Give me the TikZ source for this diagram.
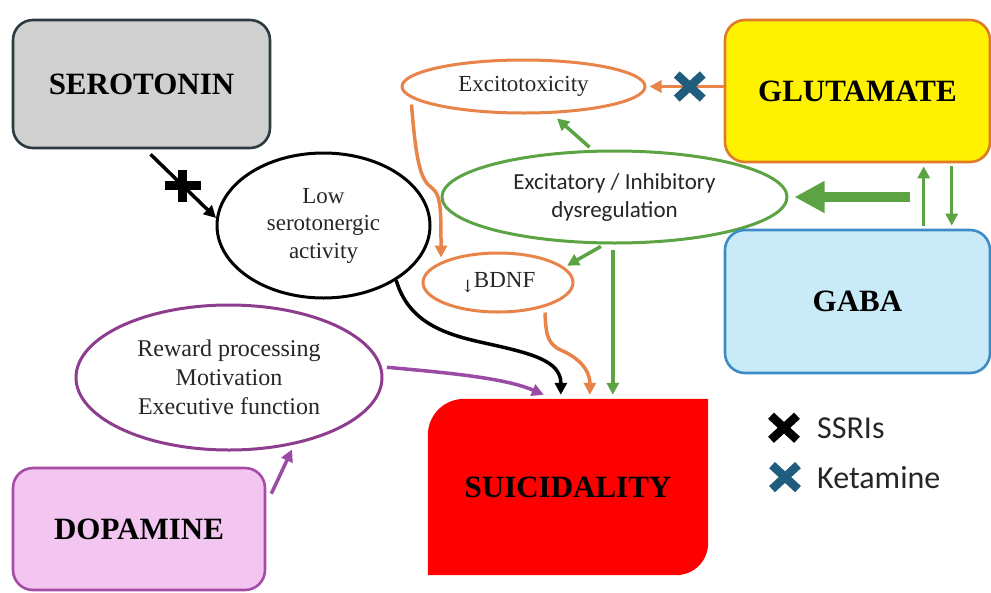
\documentclass[tikz,border=0pt]{standalone}
\usepackage{fontspec}
\setmainfont{Liberation Serif}
\newfontfamily\carlito{Carlito}
\newfontfamily\dejavuser{DejaVu Serif}
\usetikzlibrary{shapes.geometric,arrows.meta,calc}
\pgfdeclarelayer{background}
\pgfsetlayers{background,main}
\definecolor{seroborder}{HTML}{2D3A3F}
\definecolor{serofill}{HTML}{D0D0D0}
\definecolor{glutborder}{HTML}{E07B28}
\definecolor{gababorder}{HTML}{3D8CC8}
\definecolor{gabafill}{HTML}{C9EBF8}
\definecolor{dopaborder}{HTML}{A64CA6}
\definecolor{dopafill}{HTML}{F2C6F0}
\definecolor{purp}{HTML}{8E3D8E}
\definecolor{purpA}{HTML}{9B4AA6}
\definecolor{grn}{HTML}{5CA443}
\definecolor{orng}{HTML}{E8834A}
\definecolor{ketblue}{HTML}{1F5C7E}
\definecolor{suired}{HTML}{FF0000}
\tikzset{
  xcross/.pic={\draw[line width=8.5pt] (-13,-12) -- (13,12) (-13,12) -- (13,-12);},
  pluscross/.pic={\draw[line width=8.5pt] (0,-16) -- (0,16) (-18,0) -- (18,0);}
}
\begin{document}
\begin{tikzpicture}[x=1pt,y=-1pt,
  lbl/.style={font=\bfseries\fontsize{31}{31}\selectfont, text=black},
  boxnode/.style={rectangle, rounded corners=20pt, line width=2.6pt, inner sep=0pt},
  ell/.style={ellipse, line width=3pt, inner sep=0pt, align=center, fill=white, text=black!85},
  serif23/.style={font=\fontsize{23}{27.5}\selectfont},
  arr/.style={line width=3.5pt, -{Triangle[length=12pt,width=12pt]}},
  legend/.style={anchor=base west, inner sep=0pt, font=\carlito\fontsize{32}{32}\selectfont, text=black!85}
]
\clip (0,0) rectangle (991,592);

% nodes
\node[boxnode, draw=seroborder, fill=serofill, minimum width=257pt, minimum height=128pt, lbl] (sero) at (141.5,84) {SEROTONIN};
\node[ell, draw=black, minimum width=213pt, minimum height=145pt, serif23] (low) at (323.5,225.5) {Low\\serotonergic\\activity};
\node[ell, draw=orng, minimum width=243pt, minimum height=53pt, serif23] (excito) at (523.5,86.5) {Excitotoxicity};
\node[boxnode, draw=glutborder, fill=yellow, minimum width=265pt, minimum height=142pt, lbl] (glut) at (857.5,91) {GLUTAMATE};
\node[ell, draw=grn, minimum width=345pt, minimum height=92pt, font=\carlito\fontsize{23}{28}\selectfont] (ei) at (614.5,197) {Excitatory / Inhibitory\\dysregulation};
\node[boxnode, draw=gababorder, fill=gabafill, minimum width=265pt, minimum height=143pt, lbl] (gaba) at (857.5,301.5) {GABA};
\node[ell, draw=orng, minimum width=150pt, minimum height=59pt, serif23] (bdnf) at (498,282.5) {\raisebox{-5pt}{\dejavuser\fontsize{17}{17}\selectfont ↓}\kern-1pt BDNF};
\node[ell, draw=purp, minimum width=306pt, minimum height=145pt, font=\fontsize{24}{29}\selectfont] (reward) at (229,377.5) {Reward processing\\Motivation\\Executive function};
\node[boxnode, draw=dopaborder, fill=dopafill, minimum width=252pt, minimum height=122pt, lbl] (dopa) at (139,529) {DOPAMINE};
\node[rectangle, inner sep=0pt, minimum width=280pt, minimum height=176pt, lbl] (sui) at (568,487) {SUICIDALITY};
\begin{pgfonlayer}{background}
\fill[suired] (sui.south west) -- ($(sui.north west)+(0,37)$)
  .. controls ($(sui.north west)+(0,16)$) and ($(sui.north west)+(16,0)$) .. ($(sui.north west)+(37,0)$)
  -- (sui.north east) -- ($(sui.south east)+(0,-33)$)
  .. controls ($(sui.south east)+(0,-14)$) and ($(sui.south east)+(-14,0)$) .. ($(sui.south east)+(-33,0)$)
  -- cycle;
\end{pgfonlayer}

% legend
\node[legend] (ssri) at (817,438) {SSRIs};
\node[legend] (ket) at (817,488) {Ketamine};

% target points on suicidality
\coordinate (sp) at ($(sui.north west)+(116,-4)$);
\coordinate (sb) at ($(sui.north west)+(133,-4)$);
\coordinate (so) at ($(sui.north west)+(162,-4)$);
\coordinate (sg) at ($(sui.north west)+(185,-4)$);
\coordinate (thk) at (910,197);

% connectors
\draw[arr, black] ($(sero.south)+(9,5)$) -- coordinate[pos=0.49] (sx) (low.176);
\draw[arr, orng, shorten >=3pt] (glut.west |- excito.east) -- coordinate[pos=0.44] (kx) (excito.east);
\draw[arr, grn, shorten <=4pt, shorten >=7pt] (ei.115) -- (excito.-44);
\draw[grn, line width=10pt, -{Triangle[length=30pt,width=30pt]}, shorten >=6pt] (thk) -- (ei.east);
\draw[arr, grn, shorten <=3pt, shorten >=3pt] ($(gaba.north west)+(200,0)$) -- ($(glut.south west)+(200,0)$);
\draw[arr, grn, shorten <=3pt, shorten >=3pt] ($(glut.south west)+(228,0)$) -- ($(gaba.north west)+(228,0)$);
\draw[arr, orng] ($(excito.west)+(11,18)$) .. controls (416,160) and (420,180) .. (432,188)
  .. controls (441,195) and (441,210) .. ($(bdnf.center)+(-57,-25)$);
\draw[arr, grn, shorten <=4pt, shorten >=3pt] (ei.-102) -- (bdnf.13);
\draw[arr, grn, shorten <=5pt] (ei.south -| sg) -- (sg);
\draw[arr, orng] ($(bdnf.center)+(47,30)$) .. controls (546,338) and (548,345) .. (565,352)
  .. controls (585,362) and (590,375) .. (so);
\draw[arr, black] (low.-37) .. controls (408,320) and (440,333) .. (480,342)
  .. controls (530,353) and (561,360) .. (sb);
\draw[arr, purpA, shorten <=5pt] (reward.4) .. controls (450,373) and (505,378) .. (sp);
\draw[arr, purpA] ($(dopa.north east)+(5,27)$) -- ($(reward.south)+(63,-2)$);

% drug crosses
\pic[color=black] at (sx) {pluscross};
\pic[color=ketblue] at (kx) {xcross};
\pic[color=black] at ($(ssri.west)+(-33,0)$) {xcross};
\pic[color=ketblue] at ($(ket.west)+(-32,0)$) {xcross};
\end{tikzpicture}
\end{document}
